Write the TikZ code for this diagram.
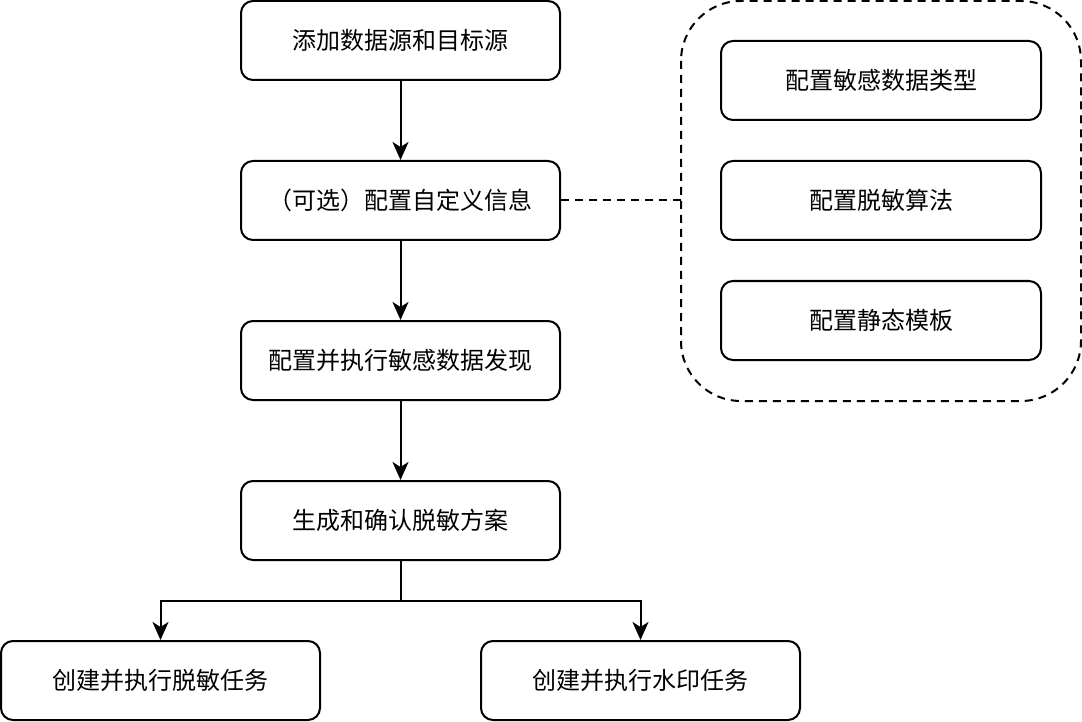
\documentclass[tikz,border=0pt]{standalone}
\usepackage{fontspec}
\setmainfont{Noto Sans CJK SC}
\usetikzlibrary{arrows.meta}
\begin{document}
\begin{tikzpicture}[x=1pt,y=-1pt,
  box/.style={draw=black,line width=2pt,rounded corners=12pt,minimum width=319pt,minimum height=79pt,inner sep=0pt,font=\fontsize{24}{28}\selectfont,fill=white},
  conn/.style={line width=2pt,-{Stealth[length=18pt,width=16pt,inset=5pt]}},
  dashline/.style={line width=2pt,dash pattern=on 8pt off 6pt}]
\useasboundingbox (0,0) rectangle (1082,722);
\draw[dashline,rounded corners=60pt] (681,1) rectangle (1081,401);
\node[box] (b1) at (400.5,40.5) {添加数据源和目标源};
\node[box] (b2) at (400.5,200.5) {（可选）配置自定义信息};
\node[box] (b3) at (400.5,360.5) {配置并执行敏感数据发现};
\node[box] (b4) at (400.5,520.5) {生成和确认脱敏方案};
\node[box] (b5) at (160.5,680.5) {创建并执行脱敏任务};
\node[box] (b6) at (640.5,680.5) {创建并执行水印任务};
\node[box,minimum width=320pt] (r1) at (881,80.5) {配置敏感数据类型};
\node[box,minimum width=320pt] (r2) at (881,200.5) {配置脱敏算法};
\node[box,minimum width=320pt] (r3) at (881,320.5) {配置静态模板};
\coordinate (cl) at (681,200.5);
\coordinate (split) at (400.5,600.5);
\draw[conn] (b1) -- (b2);
\draw[conn] (b2) -- (b3);
\draw[conn] (b3) -- (b4);
\draw[dashline] (b2.east) -- (cl);
\draw[line width=2pt] (b4.south) -- (split);
\draw[conn] (split) -| (b5.north);
\draw[conn] (split) -| (b6.north);
\end{tikzpicture}
\end{document}
